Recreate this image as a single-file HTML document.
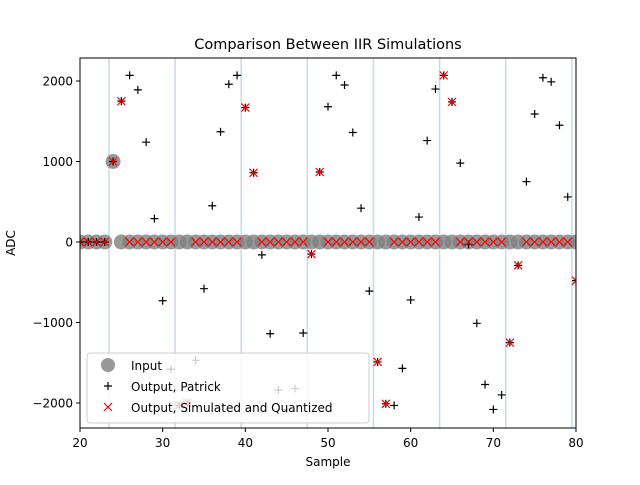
<!DOCTYPE html>
<html><head><meta charset="utf-8"><style>
body{margin:0;background:#fff;font-family:"Liberation Sans","DejaVu Sans",sans-serif;}
svg text{font-family:"DejaVu Sans","Liberation Sans",sans-serif;}
</style></head><body>
<svg id="chart" width="640" height="480" xmlns="http://www.w3.org/2000/svg">
<defs><clipPath id="pc"><rect x="80" y="58" width="496" height="370"/></clipPath></defs>
<rect width="640" height="480" fill="#fff"/>
<text x="328" y="49" font-size="14.5" text-anchor="middle">Comparison Between IIR Simulations</text>
<g id="grid" clip-path="url(#pc)"></g>
<g id="marks" clip-path="url(#pc)"></g>
<rect x="80" y="58" width="496" height="370" fill="none" stroke="#000" stroke-width="1"/>
<g id="axes"></g>
<text x="328" y="466" font-size="12" text-anchor="middle">Sample</text>
<text x="15" y="243" font-size="12" text-anchor="middle" transform="rotate(-90 15 243)">ADC</text>
<g>
<rect x="87" y="353" width="282" height="70" rx="3" fill="#fff" fill-opacity="0.8" stroke="#ccc"/>
<circle cx="108" cy="365" r="7" fill="#808080" fill-opacity="0.8"/>
<text x="131" y="370" font-size="12">Input</text>
<path d="M104 386h8M108 382v8" stroke="#000" stroke-width="1.2"/>
<text x="131" y="391" font-size="12">Output, Patrick</text>
<path d="M104 403l8 8M112 403l-8 8" stroke="#f00" stroke-width="1.2"/>
<text x="131" y="412" font-size="12">Output, Simulated and Quantized</text>
</g>
</svg>
<script>
const samples=[20,21,22,23,24,25,26,27,28,29,30,31,32,33,34,35,36,37,38,39,40,41,42,43,44,45,46,47,48,49,50,51,52,53,54,55,56,57,58,59,60,61,62,63,64,65,66,67,68,69,70,71,72,73,74,75,76,77,78,79,80];
const inputVals=[0,0,0,0,1000,0,0,0,0,0,0,0,0,0,0,0,0,0,0,0,0,0,0,0,0,0,0,0,0,0,0,0,0,0,0,0,0,0,0,0,0,0,0,0,0,0,0,0,0,0,0,0,0,0,0,0,0,0,0,0,0];
const patrickVals=[0,0,0,0,1000,1750,2070,1890,1240,290,-730,-1580,-2030,-2000,-1470,-580,450,1370,1960,2070,1670,860,-160,-1140,-1840,-2080,-1820,-1130,-150,870,1680,2070,1950,1360,420,-610,-1490,-2010,-2030,-1570,-720,310,1260,1900,2070,1740,980,-30,-1010,-1770,-2080,-1900,-1250,-290,750,1590,2040,1990,1450,560,-480];
const simVals=[0,0,0,0,1000,1750,0,0,0,0,0,0,-2030,-2000,0,0,0,0,0,0,1670,860,0,0,0,0,0,0,-150,870,0,0,0,0,0,0,-1490,-2010,0,0,0,0,0,0,2070,1740,0,0,0,0,0,0,-1250,-290,0,0,0,0,0,0,-480];
const blockLines=[23.5,31.5,39.5,47.5,55.5,63.5,71.5,79.5];
const xTicks=[20,30,40,50,60,70,80];
const yTicks=[-2000,-1000,0,1000,2000];
const NS="http://www.w3.org/2000/svg";
const X=v=>80+(v-20)/60*496;
const Y=v=>242-v*0.0805;
function mk(parent,tag,attrs){const e=document.createElementNS(NS,tag);for(const k in attrs)e.setAttribute(k,attrs[k]);document.getElementById(parent).appendChild(e);return e;}
blockLines.forEach(b=>{const e=mk('grid','line',{x1:X(b),x2:X(b),y1:58,y2:428,stroke:'#c6dbea','stroke-width':1.5});

});
samples.forEach((s,i)=>{const e=mk('marks','circle',{cx:X(s),cy:Y(inputVals[i]),r:7.5,fill:'#808080','fill-opacity':0.8});

});
samples.forEach((s,i)=>{const x=X(s),y=Y(patrickVals[i]);const e=mk('marks','path',{d:`M${x-4} ${y}h8M${x} ${y-4}v8`,stroke:'#000','stroke-width':1.2});

});
samples.forEach((s,i)=>{const x=X(s),y=Y(simVals[i]);const e=mk('marks','path',{d:`M${x-4} ${y-4}l8 8M${x+4} ${y-4}l-8 8`,stroke:'#f00','stroke-width':1.2});

});
xTicks.forEach(t=>{const l=mk('axes','line',{x1:X(t),x2:X(t),y1:428,y2:432,stroke:'#000'});


const e=mk('axes','text',{x:X(t),y:447,'font-size':12,'text-anchor':'middle'});e.textContent=t;

});
yTicks.forEach(t=>{const l=mk('axes','line',{x1:76,x2:80,y1:Y(t),y2:Y(t),stroke:'#000'});


const e=mk('axes','text',{x:73,y:Y(t)+4.5,'font-size':12,'text-anchor':'end'});e.textContent=t<0?'\u2212'+(-t):t;

});
</script>
</body></html>
